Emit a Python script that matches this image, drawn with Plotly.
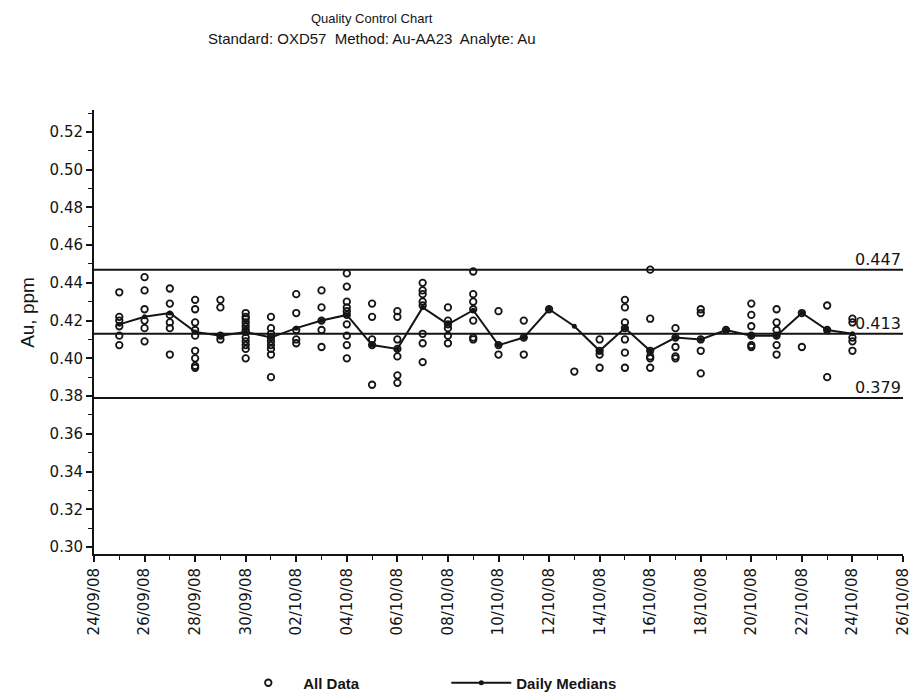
import plotly.graph_objects as go

# ---------------- data ----------------
day_dates = [
    "2008-09-25", "2008-09-26", "2008-09-27", "2008-09-28", "2008-09-29",
    "2008-09-30", "2008-10-01", "2008-10-02", "2008-10-03", "2008-10-04",
    "2008-10-05", "2008-10-06", "2008-10-07", "2008-10-08", "2008-10-09",
    "2008-10-10", "2008-10-11", "2008-10-12", "2008-10-13", "2008-10-14",
    "2008-10-15", "2008-10-16", "2008-10-17", "2008-10-18", "2008-10-19",
    "2008-10-20", "2008-10-21", "2008-10-22", "2008-10-23", "2008-10-24",
]

daily_values = [
    [0.435, 0.422, 0.420, 0.417, 0.412, 0.407],
    [0.443, 0.436, 0.426, 0.420, 0.416, 0.409],
    [0.437, 0.429, 0.423, 0.419, 0.416, 0.402],
    [0.431, 0.426, 0.419, 0.415, 0.412, 0.404, 0.400, 0.396, 0.395],
    [0.431, 0.427, 0.412, 0.410],
    [0.424, 0.422, 0.421, 0.419, 0.417, 0.415, 0.414, 0.411, 0.409, 0.407, 0.405, 0.400],
    [0.422, 0.416, 0.413, 0.411, 0.409, 0.407, 0.405, 0.402, 0.390],
    [0.434, 0.424, 0.415, 0.410, 0.408],
    [0.436, 0.427, 0.420, 0.415, 0.406],
    [0.445, 0.438, 0.430, 0.427, 0.425, 0.423, 0.418, 0.412, 0.407, 0.400],
    [0.429, 0.422, 0.410, 0.407, 0.386],
    [0.425, 0.422, 0.410, 0.405, 0.401, 0.391, 0.387],
    [0.440, 0.436, 0.434, 0.430, 0.428, 0.413, 0.408, 0.398],
    [0.427, 0.420, 0.418, 0.416, 0.412, 0.408],
    [0.446, 0.434, 0.430, 0.426, 0.420, 0.411, 0.410],
    [0.425, 0.407, 0.402],
    [0.420, 0.411, 0.402],
    [0.426],
    [0.393],
    [0.410, 0.404, 0.402, 0.395],
    [0.431, 0.427, 0.419, 0.416, 0.410, 0.403, 0.395],
    [0.447, 0.421, 0.404, 0.401, 0.400, 0.395],
    [0.416, 0.411, 0.406, 0.401, 0.400],
    [0.426, 0.424, 0.410, 0.404, 0.392],
    [0.415],
    [0.429, 0.423, 0.417, 0.412, 0.407, 0.406],
    [0.426, 0.419, 0.415, 0.412, 0.407, 0.402],
    [0.424, 0.406],
    [0.428, 0.415, 0.390],
    [0.421, 0.419, 0.411, 0.409, 0.404],
]

median_values = [
    0.418, 0.422, 0.424, 0.414, 0.412, 0.414, 0.411, 0.416, 0.420, 0.423,
    0.407, 0.405, 0.427, 0.418, 0.4255, 0.407, 0.411, 0.426, 0.417, 0.404,
    0.416, 0.404, 0.411, 0.410, 0.415, 0.412, 0.412, 0.424, 0.415, 0.413,
]

control_limits = [0.447, 0.413, 0.379]
control_labels = ["0.447", "0.413", "0.379"]

title_line1 = "Quality Control Chart"
title_line2 = "Standard: OXD57  Method: Au-AA23  Analyte: Au"
y_title = "Au, ppm"
series_names = ["All Data", "Daily Medians"]

# --------------- build ---------------
all_x = [d for d, vals in zip(day_dates, daily_values) for _ in vals]
all_y = [v for vals in daily_values for v in vals]

INK = "#141414"

fig = go.Figure()

fig.add_trace(go.Scatter(
    x=all_x, y=all_y, mode="markers", name=series_names[0],
    marker=dict(symbol="circle-open", size=6.5, color=INK,
                line=dict(width=1.8, color=INK)),
))

fig.add_trace(go.Scatter(
    x=day_dates, y=median_values, mode="lines+markers", name=series_names[1],
    line=dict(color=INK, width=2),
    marker=dict(symbol="circle", size=5, color=INK),
))

for val, lab in zip(control_limits, control_labels):
    fig.add_shape(type="line", xref="paper", x0=0, x1=1, yref="y", y0=val, y1=val,
                  line=dict(color=INK, width=2))
    fig.add_annotation(xref="paper", x=1, yref="y", y=val, text=lab,
                       xanchor="right", yanchor="bottom", yshift=-1, showarrow=False,
                       font=dict(family="DejaVu Sans", size=16, color=INK))

# titles (plot area: 809 x 444 px)
fig.add_annotation(xref="paper", yref="paper", x=0.344, y=1.207, text=title_line1,
                   showarrow=False, xanchor="center", yanchor="middle",
                   font=dict(family="Liberation Sans, Arial", size=13, color=INK))
fig.add_annotation(xref="paper", yref="paper", x=0.344, y=1.162, text=title_line2,
                   showarrow=False, xanchor="center", yanchor="middle",
                   font=dict(family="Liberation Sans, Arial", size=15, color=INK))
fig.add_annotation(xref="paper", yref="paper", x=-0.083, y=0.545, text=y_title,
                   showarrow=False, textangle=-90, xanchor="center", yanchor="middle",
                   font=dict(family="Liberation Sans, Arial", size=19, color=INK))

fig.update_layout(
    width=915, height=692,
    margin=dict(l=86, r=20, t=102, b=146),
    paper_bgcolor="white", plot_bgcolor="white",
    showlegend=True,
    legend=dict(orientation="h", xref="container", yref="container",
                x=0.479, xanchor="center", y=0.0246, yanchor="middle",
                font=dict(family="Liberation Sans, Arial", size=15, color=INK,
                          weight="bold"),
                bgcolor="rgba(0,0,0,0)", entrywidth=138, itemwidth=60),
)

fig.update_xaxes(
    type="date", range=["2008-09-24", "2008-10-26"],
    tick0="2008-09-24", dtick=2 * 86400000, tickformat="%d/%m/%y",
    tickangle=-90, ticks="outside", ticklen=6, tickwidth=1.5, tickcolor=INK,
    minor=dict(dtick=86400000, ticks="outside", ticklen=4, tickwidth=1, tickcolor=INK),
    showline=True, linecolor=INK, linewidth=2,
    showgrid=False, zeroline=False,
    tickfont=dict(family="DejaVu Sans", size=15, color=INK),
)

fig.update_yaxes(
    range=[0.2963, 0.5316], tick0=0.30, dtick=0.02, tickformat=".2f",
    ticks="outside", ticklen=6, tickwidth=1.5, tickcolor=INK,
    minor=dict(dtick=0.01, ticks="outside", ticklen=4, tickwidth=1, tickcolor=INK),
    showline=True, linecolor=INK, linewidth=2,
    showgrid=False, zeroline=False,
    tickfont=dict(family="DejaVu Sans", size=15, color=INK),
)

fig.write_html("out.html")
